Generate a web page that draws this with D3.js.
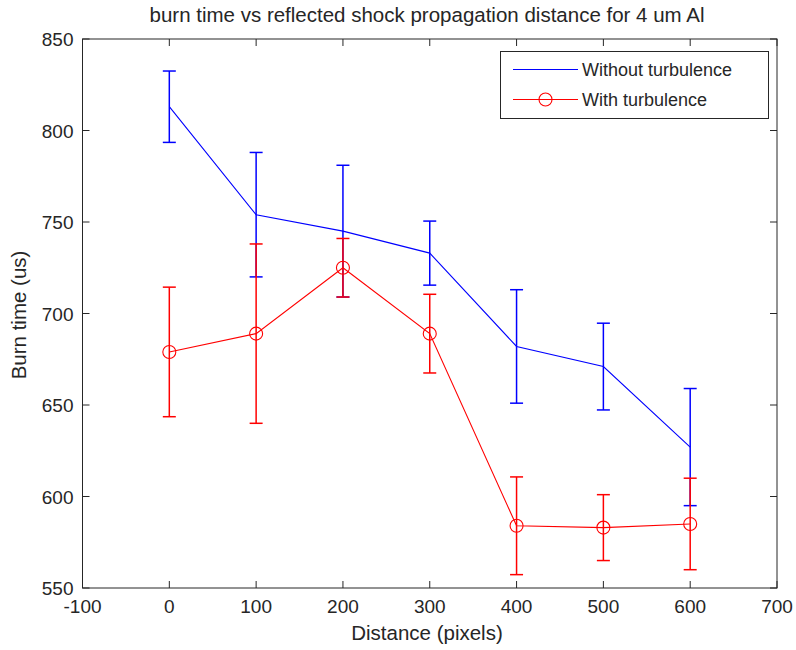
<!DOCTYPE html>
<html>
<head>
<meta charset="utf-8">
<script src="https://cdn.jsdelivr.net/npm/d3@7"></script>
<style>
  body { margin: 0; background: #fff; }
  text { font-family: "Liberation Sans", Arial, sans-serif; fill: #262626; }
</style>
</head>
<body>
<div id="chart"></div>
<script>
// data
const distances = [0, 100, 200, 300, 400, 500, 600];
const withoutTurb = [813, 754, 745, 733, 682, 671, 627];
const withoutErr = [19.5, 34, 36, 17.5, 31, 23.7, 32];
const withTurb = [679, 689, 725, 689, 584, 583, 585];
const withErr = [35.4, 49, 16, 21.5, 26.7, 18, 25];
const xTicks = [-100, 0, 100, 200, 300, 400, 500, 600, 700];
const yTicks = [550, 600, 650, 700, 750, 800, 850];

const W = 796, H = 650;
const margin = {top: 39, right: 19, bottom: 62, left: 82.5};
const width = W - margin.left - margin.right,
      height = H - margin.top - margin.bottom;

let svg = d3.select("#chart").append("svg")
    .attr("width", W)
    .attr("height", H);

let g = svg.append("g")
    .attr("transform", "translate(" + margin.left + "," + margin.top + ")");

let x = d3.scaleLinear().domain([-100, 700]).range([0, width]);
let y = d3.scaleLinear().domain([550, 850]).range([height, 0]);

const axisColor = "#262626";
const tickLen = 7;

// box
g.append("rect")
    .attr("width", width)
    .attr("height", height)
    .attr("fill", "none")
    .attr("stroke", axisColor)
    .attr("stroke-width", 1);

// ticks, inward on all four sides
xTicks.forEach(function(t) {
  g.append("line").attr("x1", x(t)).attr("x2", x(t)).attr("y1", height).attr("y2", height - tickLen).attr("stroke", axisColor);
  g.append("line").attr("x1", x(t)).attr("x2", x(t)).attr("y1", 0).attr("y2", tickLen).attr("stroke", axisColor);
  g.append("text")
    .attr("x", x(t)).attr("y", height + 25)
    .attr("text-anchor", "middle")
    .style("font-size", "19px")
    .text(t);
});
yTicks.forEach(function(t) {
  g.append("line").attr("x1", 0).attr("x2", tickLen).attr("y1", y(t)).attr("y2", y(t)).attr("stroke", axisColor);
  g.append("line").attr("x1", width).attr("x2", width - tickLen).attr("y1", y(t)).attr("y2", y(t)).attr("stroke", axisColor);
  g.append("text")
    .attr("x", -9).attr("y", y(t) + 7)
    .attr("text-anchor", "end")
    .style("font-size", "19px")
    .text(t);
});

// title + labels
svg.append("text")
    .attr("x", 427).attr("y", 22)
    .attr("text-anchor", "middle")
    .style("font-size", "20.5px")
    .text("burn time vs reflected shock propagation distance for 4 um Al");
svg.append("text")
    .attr("x", 427).attr("y", 640)
    .attr("text-anchor", "middle")
    .style("font-size", "20.5px")
    .text("Distance (pixels)");
svg.append("text")
    .attr("transform", "translate(26,315) rotate(-90)")
    .attr("text-anchor", "middle")
    .style("font-size", "20.5px")
    .text("Burn time (us)");

let line = d3.line()
    .x(function(d) { return x(d[0]); })
    .y(function(d) { return y(d[1]); });

function drawSeries(vals, errs, color, markers) {
  let pts = distances.map(function(d, i) { return [d, vals[i], errs[i]]; });
  let cap = 6.5;
  let bars = g.append("g").attr("stroke", color).attr("stroke-width", 1.5).attr("fill", "none");
  pts.forEach(function(p) {
    let top = y(p[1] + p[2]), bot = y(p[1] - p[2]), cx = x(p[0]);
    bars.append("line").attr("x1", cx).attr("x2", cx).attr("y1", top).attr("y2", bot);
    bars.append("line").attr("x1", cx - cap).attr("x2", cx + cap).attr("y1", top).attr("y2", top);
    bars.append("line").attr("x1", cx - cap).attr("x2", cx + cap).attr("y1", bot).attr("y2", bot);
  });
  g.append("path")
    .datum(pts)
    .attr("d", line)
    .attr("fill", "none")
    .attr("stroke", color)
    .attr("stroke-width", 1.1);
  if (markers) {
    g.append("g").selectAll("circle")
      .data(pts)
      .enter().append("circle")
      .attr("cx", function(d) { return x(d[0]); })
      .attr("cy", function(d) { return y(d[1]); })
      .attr("r", 6.5)
      .attr("fill", "none")
      .attr("stroke", color)
      .attr("stroke-width", 1.1);
  }
}

drawSeries(withoutTurb, withoutErr, "#0000ff", false);
drawSeries(withTurb, withErr, "#ff0000", true);

// legend
let legend = svg.append("g");
legend.append("rect")
    .attr("x", 500.5).attr("y", 51.5)
    .attr("width", 268).attr("height", 67)
    .attr("fill", "#fff")
    .attr("stroke", axisColor);
let entries = [
  {label: "Without turbulence", color: "#0000ff", marker: false, y: 69.5},
  {label: "With turbulence", color: "#ff0000", marker: true, y: 99.5}
];
entries.forEach(function(e) {
  legend.append("line")
    .attr("x1", 513).attr("x2", 578)
    .attr("y1", e.y).attr("y2", e.y)
    .attr("stroke", e.color).attr("stroke-width", 1.1);
  if (e.marker) {
    legend.append("circle")
      .attr("cx", 545.5).attr("cy", e.y).attr("r", 6.5)
      .attr("fill", "none").attr("stroke", e.color).attr("stroke-width", 1.1);
  }
  legend.append("text")
    .attr("x", 582).attr("y", e.y + 6.5)
    .style("font-size", "18px")
    .text(e.label);
});
</script>
</body>
</html>
